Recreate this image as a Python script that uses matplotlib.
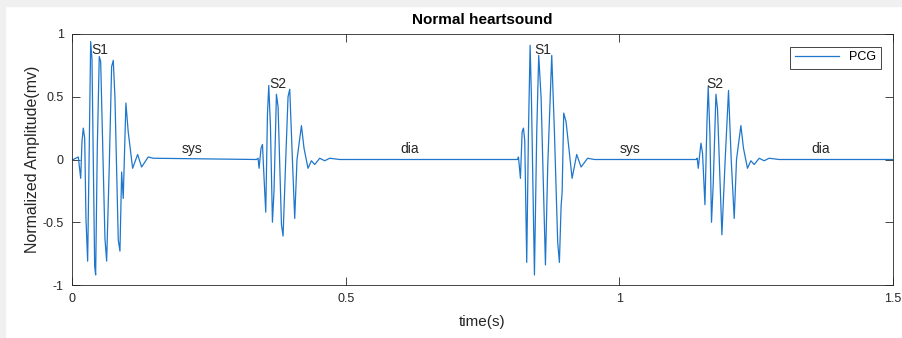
import matplotlib
matplotlib.use('Agg')
import matplotlib.pyplot as plt
from matplotlib.patches import Rectangle

# samples (time in s, normalized amplitude)
s1a_t = [0.0, 0.0024, 0.0115, 0.0159, 0.0182, 0.0206, 0.0232, 0.0255, 0.0286, 0.0316,
         0.0341, 0.0365, 0.0414, 0.0432, 0.0462, 0.0498, 0.0524, 0.0602, 0.0633, 0.0681,
         0.0724, 0.0754, 0.0785, 0.0845, 0.0876, 0.0907, 0.0936, 0.0985, 0.1027, 0.1108,
         0.1199, 0.1272, 0.1392, 0.1484]
s1a_v = [0.0, 0.0, 0.02, -0.15, 0.14, 0.25, 0.17, -0.47, -0.81, 0.12,
         0.94, 0.80, -0.85, -0.92, 0.09, 0.82, 0.78, -0.63, -0.81, -0.05,
         0.74, 0.79, 0.49, -0.64, -0.73, -0.10, -0.31, 0.45, 0.22, -0.07,
         0.04, -0.06, 0.02, 0.01]

s2a_t = [0.3370, 0.3400, 0.3418, 0.3454, 0.3480, 0.3509, 0.3540, 0.3571, 0.3595, 0.3626,
         0.3662, 0.3691, 0.3735, 0.3765, 0.3827, 0.3856, 0.3905, 0.3947, 0.3978, 0.4027,
         0.4069, 0.4111, 0.4192, 0.4239, 0.4312, 0.4374, 0.4434, 0.4526, 0.4617, 0.4708,
         0.4891]
s2a_v = [0.0, 0.01, -0.07, 0.09, 0.12, -0.15, -0.42, 0.36, 0.59, 0.26,
         -0.50, -0.25, 0.52, 0.42, -0.52, -0.61, 0.0, 0.50, 0.56, 0.0,
         -0.47, 0.0, 0.27, 0.09, -0.07, -0.01, -0.04, 0.01, -0.01, 0.01,
         0.0]

s1b_t = [0.8139, 0.8157, 0.8193, 0.8224, 0.8248, 0.8272, 0.8308, 0.8339, 0.8370, 0.8394,
         0.8449, 0.8491, 0.8527, 0.8571, 0.8650, 0.8692, 0.8765, 0.8814, 0.8874, 0.8905,
         0.8936, 0.8955, 0.8984, 0.9027, 0.9137, 0.9221, 0.9301, 0.9421, 0.9544]
s1b_v = [0.0, 0.02, -0.15, 0.22, 0.25, 0.15, -0.82, 0.20, 0.91, 0.49,
         -0.92, 0.22, 0.83, 0.49, -0.84, -0.05, 0.83, 0.22, -0.66, -0.82,
         -0.37, -0.26, 0.37, 0.30, -0.15, 0.04, -0.06, 0.01, 0.0]

s2b_t = [1.1405, 1.1423, 1.1442, 1.1491, 1.1520, 1.1564, 1.1601, 1.1624, 1.1655, 1.1684,
         1.1715, 1.1765, 1.1794, 1.1874, 1.1934, 1.1995, 1.2044, 1.2099, 1.2141, 1.2221,
         1.2268, 1.2341, 1.2403, 1.2464, 1.2555, 1.2646, 1.2737, 1.2920, 1.5]
s2b_v = [0.0, 0.01, -0.07, 0.13, 0.05, -0.36, 0.30, 0.58, 0.20, -0.50,
         -0.20, 0.52, 0.40, -0.60, 0.0, 0.55, 0.0, -0.47, 0.0, 0.27,
         0.09, -0.07, -0.01, -0.04, 0.01, -0.01, 0.01, 0.0, 0.0]

labels = ['S1', 'sys', 'S2', 'dia', 'S1', 'sys', 'S2', 'dia']
label_t = [0.035, 0.20, 0.36, 0.60, 0.845, 1.00, 1.159, 1.35]
label_v = [0.87, 0.08, 0.60, 0.08, 0.87, 0.08, 0.60, 0.08]

t = s1a_t + s2a_t + s1b_t + s2b_t
v = s1a_v + s2a_v + s1b_v + s2b_v

plt.rcParams['font.family'] = ['Liberation Sans', 'DejaVu Sans']
ink = '#262626'

fig = plt.figure(figsize=(9.02, 3.38), dpi=100, facecolor='white')
# grey window frame on top / left like the screenshot
fig.patches.append(Rectangle((0, 1 - 6/338), 1, 6/338, transform=fig.transFigure,
                             color='#f0f0f0', zorder=0))
fig.patches.append(Rectangle((0, 0), 5/902, 1, transform=fig.transFigure,
                             color='#f0f0f0', zorder=0))

ax = fig.add_axes([72/902, 1 - 285/338, (893 - 72)/902, (285 - 34)/338])
ax.plot(t, v, color='#1f77cc', lw=0.9, label='PCG')

for s, x, y in zip(labels, label_t, label_v):
    ax.text(x, y, s, fontsize=10, color=ink, ha='left', va='center')

ax.set_xlim(0, 1.5)
ax.set_ylim(-1, 1)
ax.set_xticks([0, 0.5, 1, 1.5])
ax.set_xticklabels(['0', '0.5', '1', '1.5'])
ax.set_yticks([-1, -0.5, 0, 0.5, 1])
ax.set_yticklabels(['-1', '-0.5', '0', '0.5', '1'])
ax.tick_params(direction='in', length=6, width=0.6, colors=ink, labelsize=9,
               top=True, right=True, pad=6)
for sp in ax.spines.values():
    sp.set_color(ink)
    sp.set_linewidth(0.6)

ax.set_title('Normal heartsound', fontsize=11, fontweight='bold', color='black', pad=7)
ax.set_xlabel('time(s)', fontsize=11, color=ink, labelpad=7)
ax.set_ylabel('Normalized Amplitude(mv)', fontsize=11.5, color=ink, labelpad=2)

leg = ax.legend(loc='upper right', fontsize=9, fancybox=False, framealpha=1,
                edgecolor=ink, borderaxespad=1.0, handlelength=3.5)
leg.get_frame().set_linewidth(0.6)

fig.savefig('out.png', dpi=100, facecolor=fig.get_facecolor())
